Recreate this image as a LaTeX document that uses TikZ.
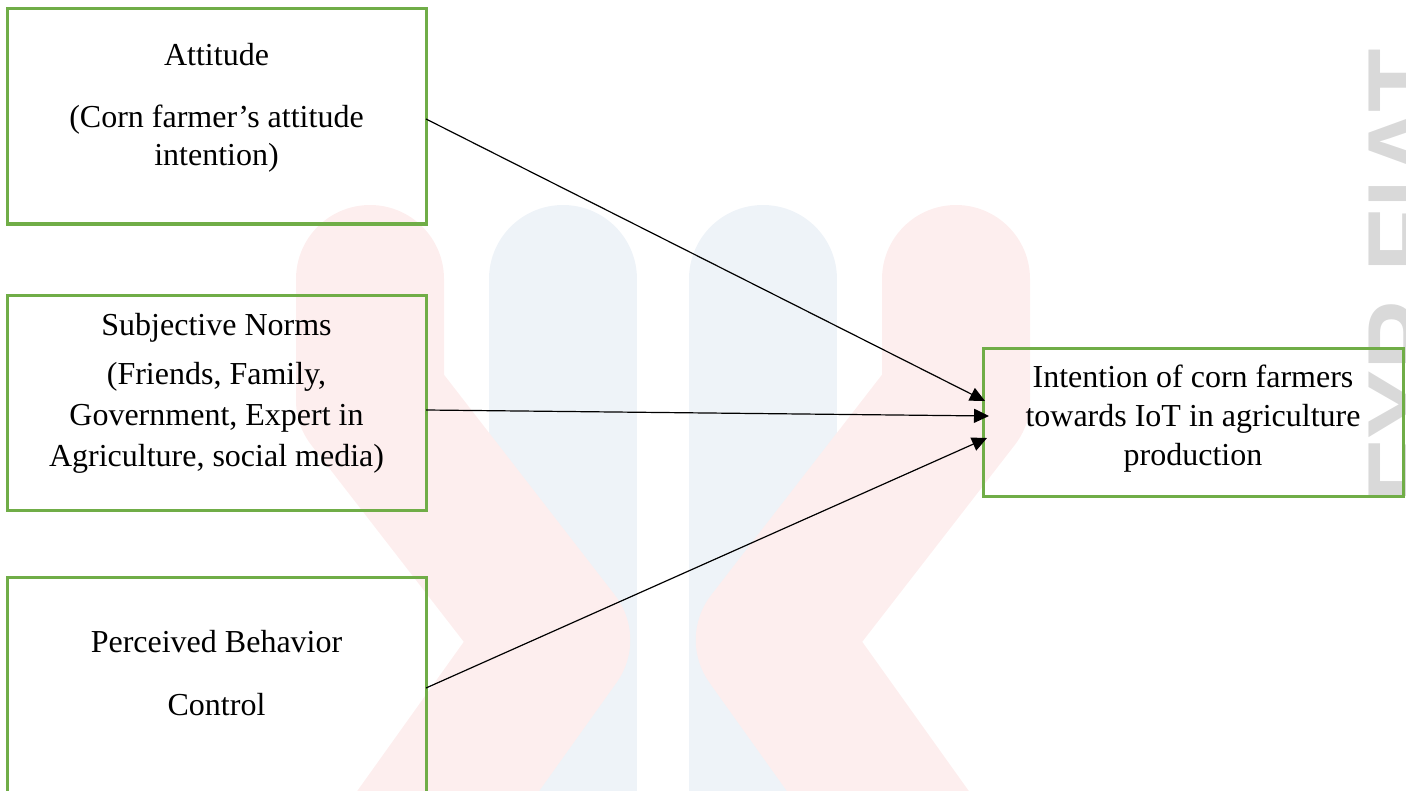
\documentclass[tikz,border=0pt]{standalone}
\usepackage{fontspec}
\setmainfont{Liberation Serif}
\newfontfamily\wmfont{Liberation Sans}
\usetikzlibrary{arrows.meta,calc}
\definecolor{boxgreen}{HTML}{70AD47}
\definecolor{wmpink}{RGB}{253,238,238}
\definecolor{wmblue}{RGB}{238,243,248}
\definecolor{wmgray}{RGB}{217,217,217}
\tikzset{
  box/.style={draw=boxgreen, line width=1.5pt, inner sep=0pt, outer sep=0pt,
              minimum width=209.5pt, minimum height=107.5pt},
  txt/.style={anchor=base, inner sep=0pt, font=\fontsize{16}{19.5}\selectfont},
  conn/.style={line width=0.6pt, -{Triangle[length=7.5pt,width=7pt]}},
  band/.style={line width=74pt, line cap=round, line join=round},
}
\begin{document}
\begin{tikzpicture}[x=0.5pt,y=-0.5pt]
\useasboundingbox (0,0) rectangle (1406,791);
\clip (0,0) rectangle (1406,791);
% watermark
\draw[band, wmblue] (563,279) -- (563,900);
\draw[band, wmblue] (763,279) -- (763,900);
\draw[band, wmpink] (956,279) -- (956,400) -- (770,640) -- (950,892);
\draw[band, wmpink] (370,279) -- (370,400) -- (556,640) -- (376,892);
\node[rotate=90, anchor=base, text=wmgray, inner sep=0pt,
      font=\wmfont\bfseries\fontsize{52}{52}\selectfont] (wm) at (1440.5,276) {FYP FIAT};
% boxes
\node[box] (att) at (216.5,116.5) {};
\node[box] (sn) at (216.5,402.5) {};
\node[box, minimum height=115pt] (pbc) at (216.5,692) {};
\node[box, minimum width=210pt, minimum height=74pt] (int) at (1193,422) {};
% texts
\node[txt] (att1) at (216.5,65.5) {Attitude};
\node[txt] (att2) at (216.5,127.5) {(Corn farmer’s attitude};
\node[txt] (att3) at (216.5,165.5) {intention)};
\node[txt] (sn1) at (216.5,335) {Subjective Norms};
\node[txt] (sn2) at (216.5,384) {(Friends, Family,};
\node[txt] (sn3) at (216.5,425.5) {Government, Expert in};
\node[txt] (sn4) at (216.5,466.5) {Agriculture, social media)};
\node[txt] (pbc1) at (216.5,652.5) {Perceived Behavior};
\node[txt] (pbc2) at (216.5,715) {Control};
\node[txt] (int1) at (1193,387.5) {Intention of corn farmers};
\node[txt] (int2) at (1193,426.5) {towards IoT in agriculture};
\node[txt] (int3) at (1193,465) {production};
% connectors
\draw[conn] ($(att.east)+(0,2.5)$) -- ($(int.west)+(2,-21)$);
\draw[conn] ($(sn.east)+(0,7.5)$) -- ($(int.west)+(6,-6)$);
\draw[conn] ($(pbc.east)+(0,-4)$) -- ($(int.west)+(4,16)$);
\end{tikzpicture}
\end{document}
